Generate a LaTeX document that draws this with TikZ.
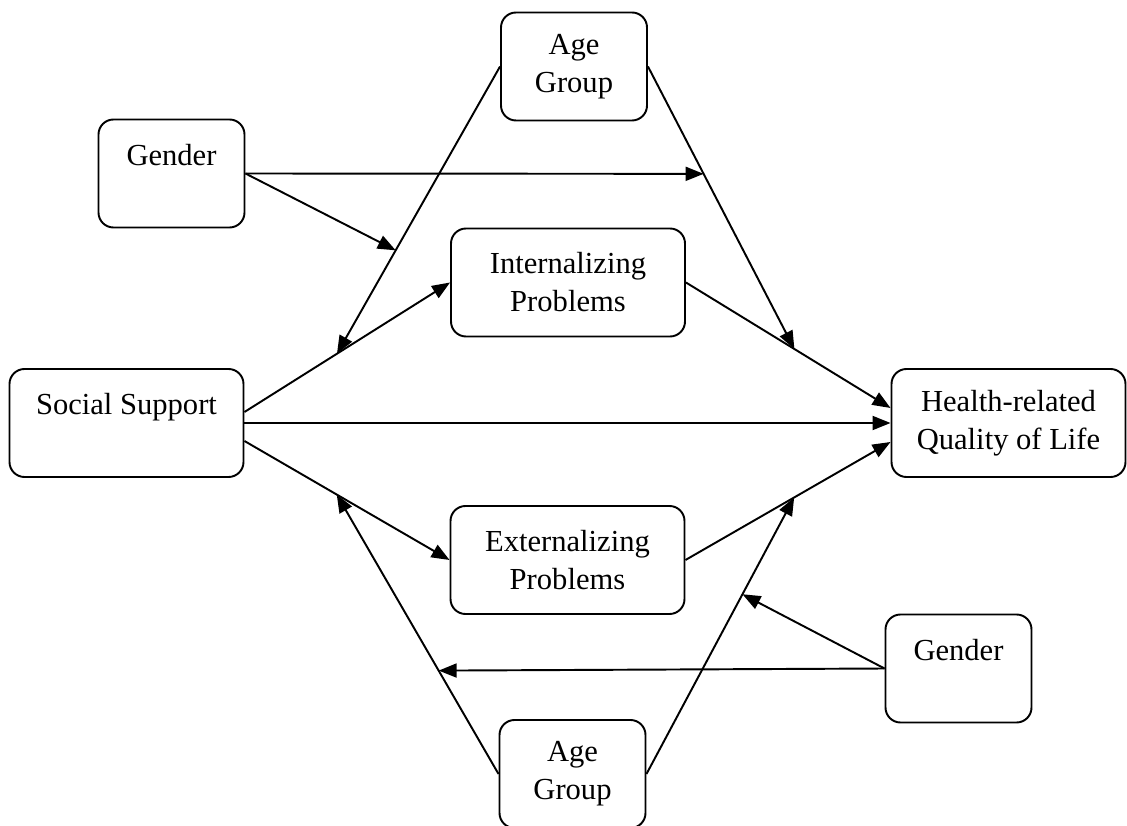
\documentclass[tikz,border=0pt]{standalone}
\usepackage{fontspec}
\setmainfont{Liberation Serif}
\usepackage{tikz}
\usetikzlibrary{arrows.meta}
\newcommand{\boxfont}{\fontsize{17.4}{21.6}\selectfont}
\tikzset{
  box/.style     = {rectangle, rounded corners=3mm, draw=black, line width=1.1pt,
                    minimum width=2.92cm, minimum height=2.16cm, inner sep=0pt,
                    align=center, font=\boxfont},
  widebox/.style = {box, minimum width=4.68cm},
  arr/.style     = {-{Triangle[length=3.6mm,width=2.8mm]}, line width=1.1pt},
}

\begin{document}
\begin{tikzpicture}
  \useasboundingbox (0,0) rectangle (22.54,-16.52);
  \node[box] (genderT) at (3.43,-3.47) {Gender\\~};
  \node[box] (ageT) at (11.48,-1.33) {Age\\Group};
  \node[widebox] (intP) at (11.36,-5.65) {Internalizing\\Problems};
  \node[widebox] (socS) at (2.53,-8.46) {Social Support\\~};
  \node[widebox] (hrql) at (20.17,-8.46) {Health-related\\Quality of Life};
  \node[widebox] (extP) at (11.35,-11.2) {Externalizing\\Problems};
  \node[box] (genderB) at (19.17,-13.37) {Gender\\~};
  \node[box] (ageB) at (11.45,-15.48) {Age\\Group};

  \draw[arr] ([yshift=2.2mm]socS.east) -- coordinate[pos=.45] (mSI) (intP.west);
  \draw[arr] (socS.east) -- (hrql.west);
  \draw[arr] ([yshift=-3.6mm]socS.east) -- coordinate[pos=.45] (mSE) (extP.west);
  \draw[arr] (intP.east) -- coordinate[pos=.53] (mIH) ([yshift=3mm]hrql.west);
  \draw[arr] (extP.east) -- coordinate[pos=.53] (mEH) ([yshift=-3.8mm]hrql.west);

  \draw[arr] (ageT.west) -- coordinate[pos=.64] (mTL) (mSI);
  \draw[arr] (ageT.east) -- coordinate[pos=.38] (mTR) (mIH);
  \draw[arr] (ageB.west) -- coordinate[pos=.37] (mBL) (mSE);
  \draw[arr] (ageB.east) -- coordinate[pos=.65] (mBR) (mEH);

  \draw[arr] (genderT.east) -- (mTL);
  \draw[arr] (genderT.east) -- (mTR);
  \draw[arr] (genderB.west) -- (mBL);
  \draw[arr] (genderB.west) -- (mBR);
\end{tikzpicture}
\end{document}
